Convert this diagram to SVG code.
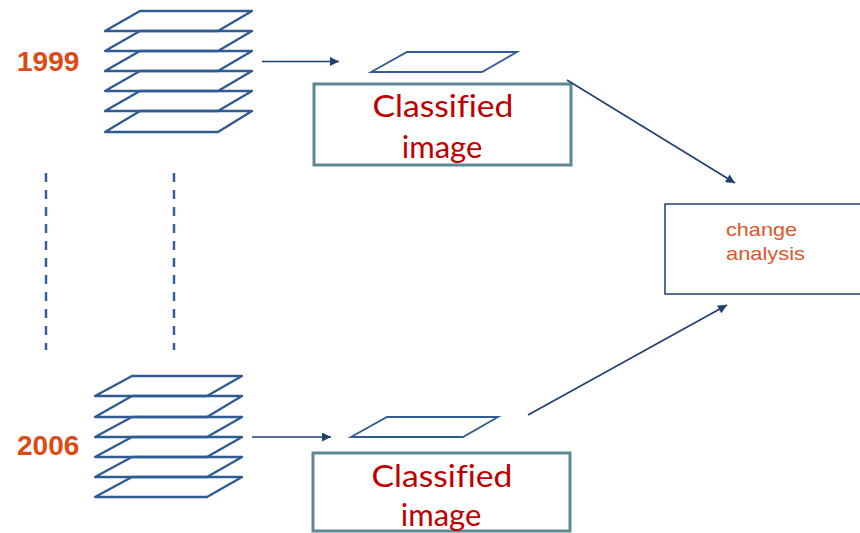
<svg xmlns="http://www.w3.org/2000/svg" width="860" height="533" viewBox="0 0 860 533">
<defs>
<style>
.layer{fill:none;stroke:#2f5a94;stroke-width:2.3;stroke-linejoin:round}
.thin{fill:none;stroke:#2f5a94;stroke-width:1.8}
.year{font-family:"Liberation Sans",Arial,sans-serif;font-weight:bold;font-size:28px;fill:#dd4a12}
.cbox{fill:#fff;stroke:#5f8794;stroke-width:3}
.ctext{font-family:Lato,"Liberation Sans",sans-serif;font-size:31px;fill:#c00000;text-anchor:middle;font-variant-ligatures:none}
.abox{fill:#fff;stroke:#1f3f6f;stroke-width:1.5}
.atext{font-family:"Liberation Sans",Arial,sans-serif;font-size:19px;fill:#e0552a}
.conn{fill:none;stroke:#1f3f6f;stroke-width:1.6}
.dash{fill:none;stroke:#3a5f9a;stroke-width:2.5;stroke-dasharray:9 8}
</style>
<marker id="ah" viewBox="0 0 10 10" refX="10" refY="5" markerWidth="10" markerHeight="9" orient="auto" markerUnits="userSpaceOnUse">
<path d="M0,0 L10,5 L0,10 z" fill="#1f3f6f"/>
</marker>
<marker id="ah2" viewBox="0 0 10 10" refX="10" refY="5" markerWidth="11" markerHeight="9" orient="auto" markerUnits="userSpaceOnUse">
<path d="M0,0 L10,5 L0,10 z" fill="#1f3f6f"/>
</marker>
</defs>

<g id="stack1999">
<path class="layer" d="M140,11 H252 L218,31 H105 Z"/>
<path class="layer" d="M140,31 H252 L218,51 H105 Z"/>
<path class="layer" d="M140,51 H252 L218,71 H105 Z"/>
<path class="layer" d="M140,71 H252 L218,91 H105 Z"/>
<path class="layer" d="M140,91 H252 L218,111 H105 Z"/>
<path class="layer" d="M140,111 H252 L218,132 H105 Z"/>
</g>
<g id="label1999"><text class="year" x="17" y="71">1999</text></g>

<g id="stack2006">
<path class="layer" d="M132,376 H242 L207,396 H95 Z"/>
<path class="layer" d="M132,396 H242 L207,417 H95 Z"/>
<path class="layer" d="M132,417 H242 L207,437 H95 Z"/>
<path class="layer" d="M132,437 H242 L207,457 H95 Z"/>
<path class="layer" d="M132,457 H242 L207,477 H95 Z"/>
<path class="layer" d="M132,477 H242 L207,497 H95 Z"/>
</g>
<g id="label2006"><text class="year" x="17" y="455">2006</text></g>

<g id="layer1999"><path class="thin" d="M407,52 H517 L482,72 H371 Z"/></g>
<g id="layer2006"><path class="thin" d="M387,417 H498 L463,437 H351 Z"/></g>

<g id="classified1999">
<rect class="cbox" x="314" y="84" width="257" height="81"/>
<text class="ctext" x="443" y="117" textLength="141" lengthAdjust="spacingAndGlyphs">Classified</text>
<text class="ctext" x="442" y="158">image</text>
</g>

<g id="classified2006">
<rect class="cbox" x="313" y="453" width="257" height="78"/>
<text class="ctext" x="442" y="487" textLength="141" lengthAdjust="spacingAndGlyphs">Classified</text>
<text class="ctext" x="441" y="526">image</text>
</g>

<g id="changeAnalysis">
<rect class="abox" x="665" y="204" width="200" height="90"/>
<text class="atext" x="726" y="236" textLength="71" lengthAdjust="spacingAndGlyphs">change</text>
<text class="atext" x="726" y="260" textLength="79" lengthAdjust="spacingAndGlyphs">analysis</text>
</g>

<g id="connectors">
<line class="dash" x1="46" y1="173" x2="46" y2="350"/>
<line class="dash" x1="174" y1="173" x2="174" y2="350"/>
<line class="conn" x1="262" y1="61.5" x2="339" y2="61.5" marker-end="url(#ah)"/>
<line class="conn" x1="252" y1="437" x2="331" y2="437" marker-end="url(#ah)"/>
<line class="conn" x1="567" y1="80" x2="735" y2="183" marker-end="url(#ah2)"/>
<line class="conn" x1="528" y1="415" x2="727" y2="305" marker-end="url(#ah2)"/>
</g>
</svg>
